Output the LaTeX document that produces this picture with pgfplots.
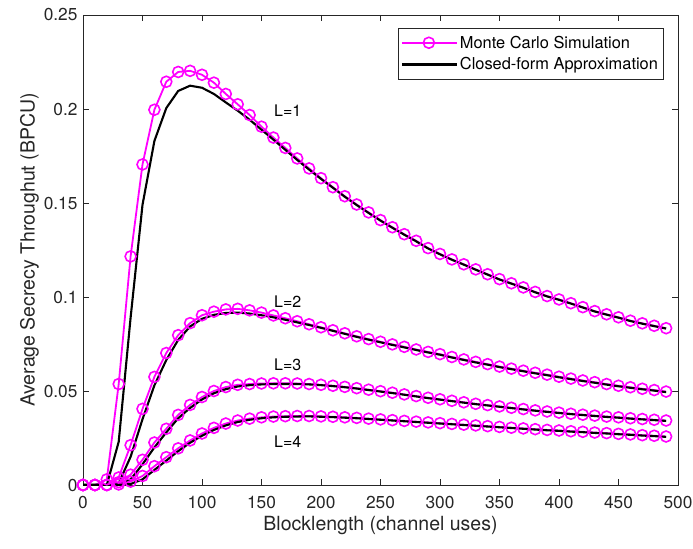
\documentclass[border=0pt]{standalone}
\usepackage{fontspec}
\setmainfont{TeX Gyre Heros}
\usepackage{pgfplots}
\usepackage{pgfplotstable}
\pgfplotsset{compat=1.18}
\definecolor{mag}{rgb}{1,0,1}
\definecolor{axgray}{rgb}{0.15,0.15,0.15}

% columns: blocklength, Monte Carlo, closed form
\pgfplotstableread{
x mc cf
0 0 0
10 0 0
20 0.003 0
30 0.0537 0.023
40 0.1216 0.089
50 0.1705 0.149
60 0.1996 0.183
70 0.2145 0.2005
80 0.2197 0.2096
90 0.2203 0.2124
100 0.2182 0.2113
110 0.2140 0.2080
120 0.2080 0.2035
130 0.2025 0.1991
140 0.1968 0.1943
150 0.1906 0.1890
160 0.1848 0.1837
170 0.1793 0.1783
180 0.1737 0.1729
190 0.1684 0.1678
200 0.1632 0.1628
210 0.1584 0.1581
220 0.1536 0.1533
230 0.1492 0.1489
240 0.1450 0.1447
250 0.1409 0.1406
260 0.1371 0.1368
270 0.1334 0.1331
280 0.1299 0.1296
290 0.1260 0.1258
300 0.1229 0.1227
310 0.1200 0.1198
320 0.1174 0.1172
330 0.1147 0.1145
340 0.1121 0.1119
350 0.1095 0.1093
360 0.1073 0.1071
370 0.1051 0.1049
380 0.1027 0.1025
390 0.1005 0.1003
400 0.0987 0.0985
410 0.0967 0.0965
420 0.0946 0.0944
430 0.0925 0.0923
440 0.0908 0.0906
450 0.0892 0.0890
460 0.0874 0.0872
470 0.0860 0.0858
480 0.0847 0.0845
490 0.0834 0.0832
}\Lone

\pgfplotstableread{
x mc cf
0 0 0
10 0 0
20 0 0
30 0.004 0.001
40 0.0212 0.015
50 0.0405 0.035
60 0.0575 0.053
70 0.0702 0.0665
80 0.0797 0.0772
90 0.0861 0.0843
100 0.0903 0.0884
110 0.0922 0.0905
120 0.0934 0.0915
130 0.0937 0.0917
140 0.0929 0.0912
150 0.0917 0.0903
160 0.0902 0.0892
170 0.0887 0.0879
180 0.0871 0.0865
190 0.0855 0.0851
200 0.0839 0.0836
210 0.0823 0.0820
220 0.0807 0.0804
230 0.0791 0.0788
240 0.0776 0.0773
250 0.0762 0.0759
260 0.0748 0.0745
270 0.0735 0.0732
280 0.0721 0.0718
290 0.0708 0.0705
300 0.0696 0.0693
310 0.0681 0.0678
320 0.0668 0.0665
330 0.0655 0.0652
340 0.0643 0.0640
350 0.0630 0.0627
360 0.0619 0.0616
370 0.0608 0.0605
380 0.0597 0.0594
390 0.0587 0.0584
400 0.0576 0.0573
410 0.0566 0.0563
420 0.0556 0.0553
430 0.0547 0.0544
440 0.0537 0.0534
450 0.0528 0.0525
460 0.0520 0.0517
470 0.0512 0.0509
480 0.0505 0.0502
490 0.0497 0.0494
}\Ltwo

\pgfplotstableread{
x mc cf
0 0 0
10 0 0
20 0 0
30 0.0015 0.0005
40 0.0055 0.003
50 0.0134 0.011
60 0.0226 0.020
70 0.0299 0.028
80 0.0373 0.0355
90 0.0426 0.041
100 0.0468 0.0455
110 0.0500 0.0488
120 0.0521 0.0510
130 0.0533 0.0524
140 0.0537 0.0531
150 0.0540 0.0535
160 0.0541 0.0537
170 0.0541 0.0537
180 0.0540 0.0537
190 0.0537 0.0535
200 0.0533 0.0531
210 0.0528 0.0526
220 0.0522 0.0520
230 0.0515 0.0513
240 0.0507 0.0505
250 0.0499 0.0497
260 0.0491 0.0489
270 0.0482 0.0480
280 0.0473 0.0471
290 0.0464 0.0462
300 0.0456 0.0454
310 0.0448 0.0446
320 0.0440 0.0438
330 0.0432 0.0430
340 0.0425 0.0423
350 0.0418 0.0416
360 0.0411 0.0409
370 0.0404 0.0402
380 0.0397 0.0395
390 0.0391 0.0389
400 0.0385 0.0383
410 0.0379 0.0377
420 0.0374 0.0372
430 0.0369 0.0367
440 0.0364 0.0362
450 0.0360 0.0358
460 0.0355 0.0353
470 0.0351 0.0349
480 0.0347 0.0345
490 0.0343 0.0341
}\Lthree

\pgfplotstableread{
x mc cf
0 0 0
10 0 0
20 0 0
30 0.0003 0.0001
40 0.0018 0.0005
50 0.0048 0.003
60 0.0100 0.008
70 0.0148 0.0130
80 0.0195 0.0180
90 0.0237 0.0225
100 0.0274 0.0262
110 0.0304 0.0293
120 0.0327 0.0317
130 0.0343 0.0335
140 0.0353 0.0347
150 0.0360 0.0355
160 0.0364 0.0360
170 0.0366 0.0363
180 0.0367 0.0364
190 0.0367 0.0365
200 0.0365 0.0363
210 0.0363 0.0361
220 0.0360 0.0358
230 0.0357 0.0355
240 0.0353 0.0351
250 0.0349 0.0347
260 0.0345 0.0343
270 0.0341 0.0339
280 0.0337 0.0335
290 0.0333 0.0331
300 0.0329 0.0327
310 0.0325 0.0323
320 0.0321 0.0319
330 0.0317 0.0315
340 0.0313 0.0311
350 0.0309 0.0307
360 0.0305 0.0303
370 0.0301 0.0299
380 0.0297 0.0295
390 0.0293 0.0291
400 0.0290 0.0288
410 0.0286 0.0284
420 0.0283 0.0281
430 0.0279 0.0277
440 0.0276 0.0274
450 0.0272 0.0270
460 0.0269 0.0267
470 0.0265 0.0263
480 0.0262 0.0260
490 0.0258 0.0256
}\Lfour

\begin{document}
\begin{tikzpicture}
\begin{axis}[
    scale only axis,
    width=595pt, height=470pt,
    xmin=0, xmax=500, ymin=0, ymax=0.25,
    xtick={0,50,...,500},
    ytick={0,0.05,0.1,0.15,0.2,0.25},
    yticklabels={0,0.05,0.1,0.15,0.2,0.25},
    scaled y ticks=false,
    /pgf/number format/assume math mode=true,
    tick align=inside,
    major tick length=6pt,
    axis line style={axgray, line width=0.6pt},
    every tick/.style={axgray, line width=0.6pt},
    tick label style={font=\fontsize{17.3}{20}\selectfont, text=axgray},
    xticklabel style={yshift=-8pt},
    yticklabel style={xshift=-2pt},
    xlabel={Blocklength (channel uses)},
    ylabel={Average Secrecy Throughut (BPCU)},
    label style={font=\fontsize{19.5}{23}\selectfont, text=axgray},
    ylabel style={yshift=-2pt},
    legend style={at={(0.975,0.973)}, anchor=north east,
        draw=axgray,
        font=\fontsize{16.4}{19}\selectfont,
        cells={anchor=west}, row sep=4pt, inner xsep=3pt, inner ysep=6pt},
    legend image code/.code={\draw[mark repeat=2,mark phase=2,#1] plot coordinates {(0pt,0pt) (27pt,0pt) (55pt,0pt)};},
    mc/.style={color=mag, line width=1.8pt, mark=o, mark size=5.5pt, mark options={line width=1.6pt}},
    cf/.style={color=black, line width=2.1pt, no marks},
]
\addplot[mc] table[x=x, y=mc] {\Lone};
\addplot[cf] table[x=x, y=cf] {\Lone};
\addplot[mc, forget plot] table[x=x, y=mc] {\Ltwo};
\addplot[cf, forget plot] table[x=x, y=cf] {\Ltwo};
\addplot[mc, forget plot] table[x=x, y=mc] {\Lthree};
\addplot[cf, forget plot] table[x=x, y=cf] {\Lthree};
\addplot[mc, forget plot] table[x=x, y=mc] {\Lfour};
\addplot[cf, forget plot] table[x=x, y=cf] {\Lfour};
\legend{Monte Carlo Simulation, Closed-form Approximation}

\node[font=\fontsize{16}{19}\selectfont] at (axis cs:172,0.199) {L=1};
\node[font=\fontsize{16}{19}\selectfont] at (axis cs:172,0.0974) {L=2};
\node[font=\fontsize{16}{19}\selectfont] at (axis cs:172,0.0638) {L=3};
\node[font=\fontsize{16}{19}\selectfont] at (axis cs:172,0.0233) {L=4};
\end{axis}
\pgfresetboundingbox
\path ([xshift=-83pt,yshift=-63pt]current axis.south west) rectangle ([xshift=15pt,yshift=15pt]current axis.north east);
\end{tikzpicture}
\end{document}
